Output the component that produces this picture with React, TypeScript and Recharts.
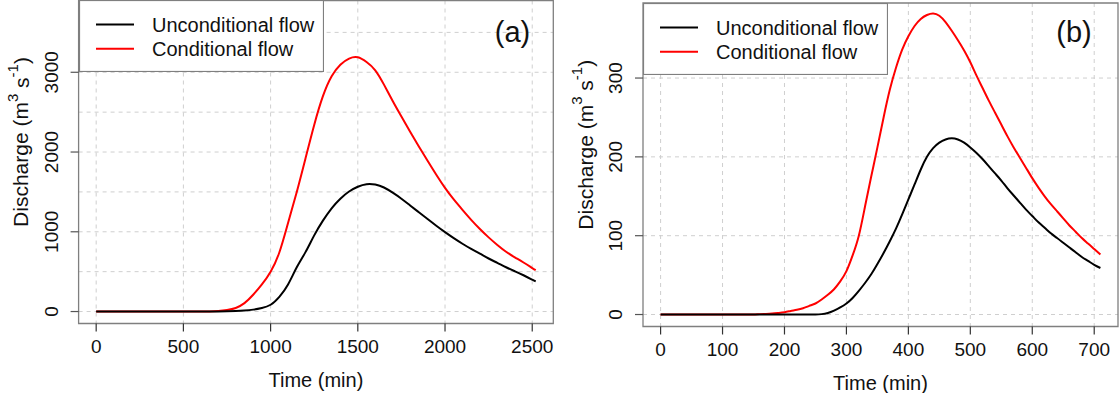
import React from 'react';
import { LineChart, Line, XAxis, YAxis, CartesianGrid, ReferenceArea, Legend } from 'recharts';

const FONT = '"Liberation Sans", Arial, Helvetica, sans-serif';
const SERIES = ['Unconditional flow', 'Conditional flow'];

// panel (a)
const timeA = [
  0, 50, 100, 150, 200, 250, 300, 350, 400, 450, 500, 550, 600, 650, 700, 750, 800, 850, 900, 950,
  1000, 1050, 1100, 1150, 1200, 1250, 1300, 1350, 1400, 1450, 1500, 1550, 1600, 1650, 1700, 1750,
  1800, 1850, 1900, 1950, 2000, 2050, 2100, 2150, 2200, 2250, 2300, 2350, 2400, 2450, 2500, 2520,
];
const unconditionalA = [
  0, 0, 0, 0, 0, 0, 0, 0, 0, 0, 0, 0, 0, 1, 2, 4, 7, 13, 24, 45,
  85, 185, 340, 555, 745, 955, 1140, 1295, 1415, 1505, 1565, 1597, 1592, 1555, 1490, 1415,
  1330, 1245, 1160, 1075, 995, 920, 850, 785, 725, 665, 610, 555, 505, 455, 400, 378,
];
const conditionalA = [
  0, 0, 0, 0, 0, 0, 0, 0, 0, 0, 0, 0, 0, 2, 8, 20, 45, 105, 210, 340,
  500, 740, 1110, 1500, 1920, 2340, 2700, 2950, 3095, 3172, 3188, 3128, 3025, 2845, 2640, 2445,
  2255, 2070, 1890, 1715, 1550, 1405, 1275, 1150, 1035, 930, 835, 750, 680, 615, 545, 518,
];
const xTicksA = [0, 500, 1000, 1500, 2000, 2500];
const yTicksA = [0, 1000, 2000, 3000];
const yGridA = [0, 500, 1000, 1500, 2000, 2500, 3000, 3500];

// panel (b)
const timeB = [
  0, 10, 20, 30, 40, 50, 60, 70, 80, 90, 100, 110, 120, 130, 140, 150, 160, 170, 180, 190,
  200, 210, 220, 230, 240, 250, 260, 270, 280, 290, 300, 310, 320, 330, 340, 350, 360, 370, 380, 390,
  400, 410, 420, 430, 440, 450, 460, 470, 480, 490, 500, 510, 520, 530, 540, 550, 560, 570, 580, 590,
  600, 610, 620, 630, 640, 650, 660, 670, 680, 690, 700, 710,
];
const unconditionalB = [
  0, 0, 0, 0, 0, 0, 0, 0, 0, 0, 0, 0, 0, 0, 0, 0, 0, 0, 0, 0,
  0, 0, 0, 0, 0, 0, 0.5, 2, 5, 9, 14, 21, 30, 40, 51, 64, 78, 93, 109, 127,
  146, 165, 184, 200, 211, 218, 222, 223.5, 222, 218, 212, 205, 197, 188, 179, 170, 160, 151, 142, 133,
  125, 117, 110, 103, 97, 91, 85, 79, 73, 68, 63, 59,
];
const conditionalB = [
  0, 0, 0, 0, 0, 0, 0, 0, 0, 0, 0, 0, 0, 0, 0, 0, 0.5, 0.8, 1.2, 2,
  3, 4.5, 6, 8, 11, 14, 19, 25, 32, 42, 55, 75, 100, 137, 175, 212, 250, 285, 313, 336,
  353, 366, 375, 380, 382, 379, 371, 360, 348, 335, 320, 303, 287, 271, 256, 241, 226, 212, 199, 186,
  173, 161, 150, 140, 131, 122, 113, 105, 97, 90, 83, 76,
];
const xTicksB = [0, 100, 200, 300, 400, 500, 600, 700];
const yTicksB = [0, 100, 200, 300];

const toRows = (t: number[], u: number[], c: number[]) =>
  t.map((v, i) => ({ t: v, unconditional: u[i], conditional: c[i] }));

const YTick = ({ x, y, payload }: any) => {
  const cx = x - 19;
  return (
    <text x={cx} y={y} transform={`rotate(-90 ${cx} ${y})`} textAnchor="middle" dominantBaseline="central"
      fontSize={19} fontFamily={FONT} fill="#111">
      {payload.value}
    </text>
  );
};

const XTick = ({ x, y, payload }: any) => (
  <text x={x} y={y + 14.5} textAnchor="middle" dominantBaseline="central" fontSize={19} fontFamily={FONT} fill="#111">
    {payload.value}
  </text>
);

const XTitle = ({ viewBox }: any) => {
  const { x, y, width } = viewBox;
  return (
    <text x={x + width / 2} y={y + 56} textAnchor="middle" dominantBaseline="central" fontSize={20} fontFamily={FONT} fill="#111">
      Time (min)
    </text>
  );
};

const YTitle = ({ viewBox }: any) => {
  const { x, y, height } = viewBox;
  const cx = x - 57;
  const cy = y + height / 2 - 20;
  return (
    <text x={cx} y={cy} transform={`rotate(-90 ${cx} ${cy})`} textAnchor="middle" dominantBaseline="central"
      fontSize={21} fontFamily={FONT} fill="#111">
      Discharge (m<tspan dy={-9} fontSize={15}>3</tspan>
      <tspan dy={9}> s</tspan>
      <tspan dy={-9} fontSize={15}>-1</tspan>
      <tspan dy={9}>)</tspan>
    </text>
  );
};

const FlowLegend = ({ payload }: any) => {
  const items = SERIES.map((name) => (payload || []).find((p: any) => p.value === name)).filter(Boolean);
  return (
    <svg width={245} height={72} style={{ display: 'block' }}>
      <rect x={0.5} y={0.5} width={244} height={71} fill="#fff" stroke="#7f7f7f" strokeWidth={1.2} />
      {items.map((it: any, i: number) => {
        const ly = 24.5 + i * 24.3;
        return (
          <g key={it.value}>
            <line x1={17} x2={55} y1={ly} y2={ly} stroke={it.color} strokeWidth={2} />
            <text x={73} y={ly} dominantBaseline="central" fontSize={20} fontFamily={FONT} fill="#111">
              {it.value}
            </text>
          </g>
        );
      })}
    </svg>
  );
};

function Panel({ rows, width, margin, xDomain, yDomain, xTicks, yTicks, xGrid, yGrid }: any) {
  return (
    <LineChart width={width} height={393} data={rows} margin={margin}>
      <CartesianGrid horizontalValues={yGrid} verticalValues={xGrid} stroke="#cfcfcf" strokeDasharray="4 4" />
      <ReferenceArea x1={xDomain[0]} x2={xDomain[1]} y1={yDomain[0]} y2={yDomain[1]} fill="none" stroke="#7f7f7f" strokeWidth={1.3} />
      <XAxis type="number" dataKey="t" domain={xDomain} ticks={xTicks} allowDataOverflow height={1}
        axisLine={false} tickSize={8} tickMargin={0} tickLine={{ stroke: '#333', strokeWidth: 1.2 }}
        tick={(p: any) => <XTick {...p} />} interval={0} label={{ content: <XTitle /> }} />
      <YAxis type="number" domain={yDomain} ticks={yTicks} allowDataOverflow width={1}
        axisLine={false} tickSize={8} tickMargin={0} tickLine={{ stroke: '#555', strokeWidth: 1.2 }}
        tick={(p: any) => <YTick {...p} />} interval={0} label={{ content: <YTitle /> }} />
      <Legend layout="vertical" align="center" verticalAlign="middle" content={<FlowLegend />}
        wrapperStyle={{ left: margin.left + 1, top: margin.top - 0.5, width: 245, height: 72 }} />
      <Line type="natural" dataKey="conditional" name="Conditional flow" stroke="#ff0000" strokeWidth={2}
        dot={false} isAnimationActive={false} />
      <Line type="natural" dataKey="unconditional" name="Unconditional flow" stroke="#000000" strokeWidth={2}
        dot={false} isAnimationActive={false} />
    </LineChart>
  );
}

const tagStyle = (left: number): React.CSSProperties => ({
  position: 'absolute', left, top: 32, transform: 'translate(-50%, -50%)',
  fontFamily: FONT, fontSize: 29, color: '#111', lineHeight: 1,
});

export default function App() {
  return (
    <div style={{ position: 'absolute', left: 0, top: 0, width: 1119, height: 393, background: '#fff', overflow: 'hidden' }}>
      <div style={{ position: 'absolute', left: 0, top: 0 }}>
        <Panel rows={toRows(timeA, unconditionalA, conditionalA)} width={560}
          margin={{ top: 0.5, right: 6.7, bottom: 68.5, left: 77.6 }}
          xDomain={[-100.8, 2620.8]} yDomain={[-150, 3900]}
          xTicks={xTicksA} yTicks={yTicksA} xGrid={xTicksA} yGrid={yGridA} />
      </div>
      <div style={{ position: 'absolute', left: 560, top: 0 }}>
        <Panel rows={toRows(timeB, unconditionalB, conditionalB)} width={559}
          margin={{ top: 3, right: 1, bottom: 65.5, left: 82 }}
          xDomain={[-28.4, 738.4]} yDomain={[-15.2, 395.2]}
          xTicks={xTicksB} yTicks={yTicksB} xGrid={xTicksB} yGrid={yTicksB} />
      </div>
      <div style={tagStyle(512.5)}>(a)</div>
      <div style={tagStyle(1074)}>(b)</div>
    </div>
  );
}
